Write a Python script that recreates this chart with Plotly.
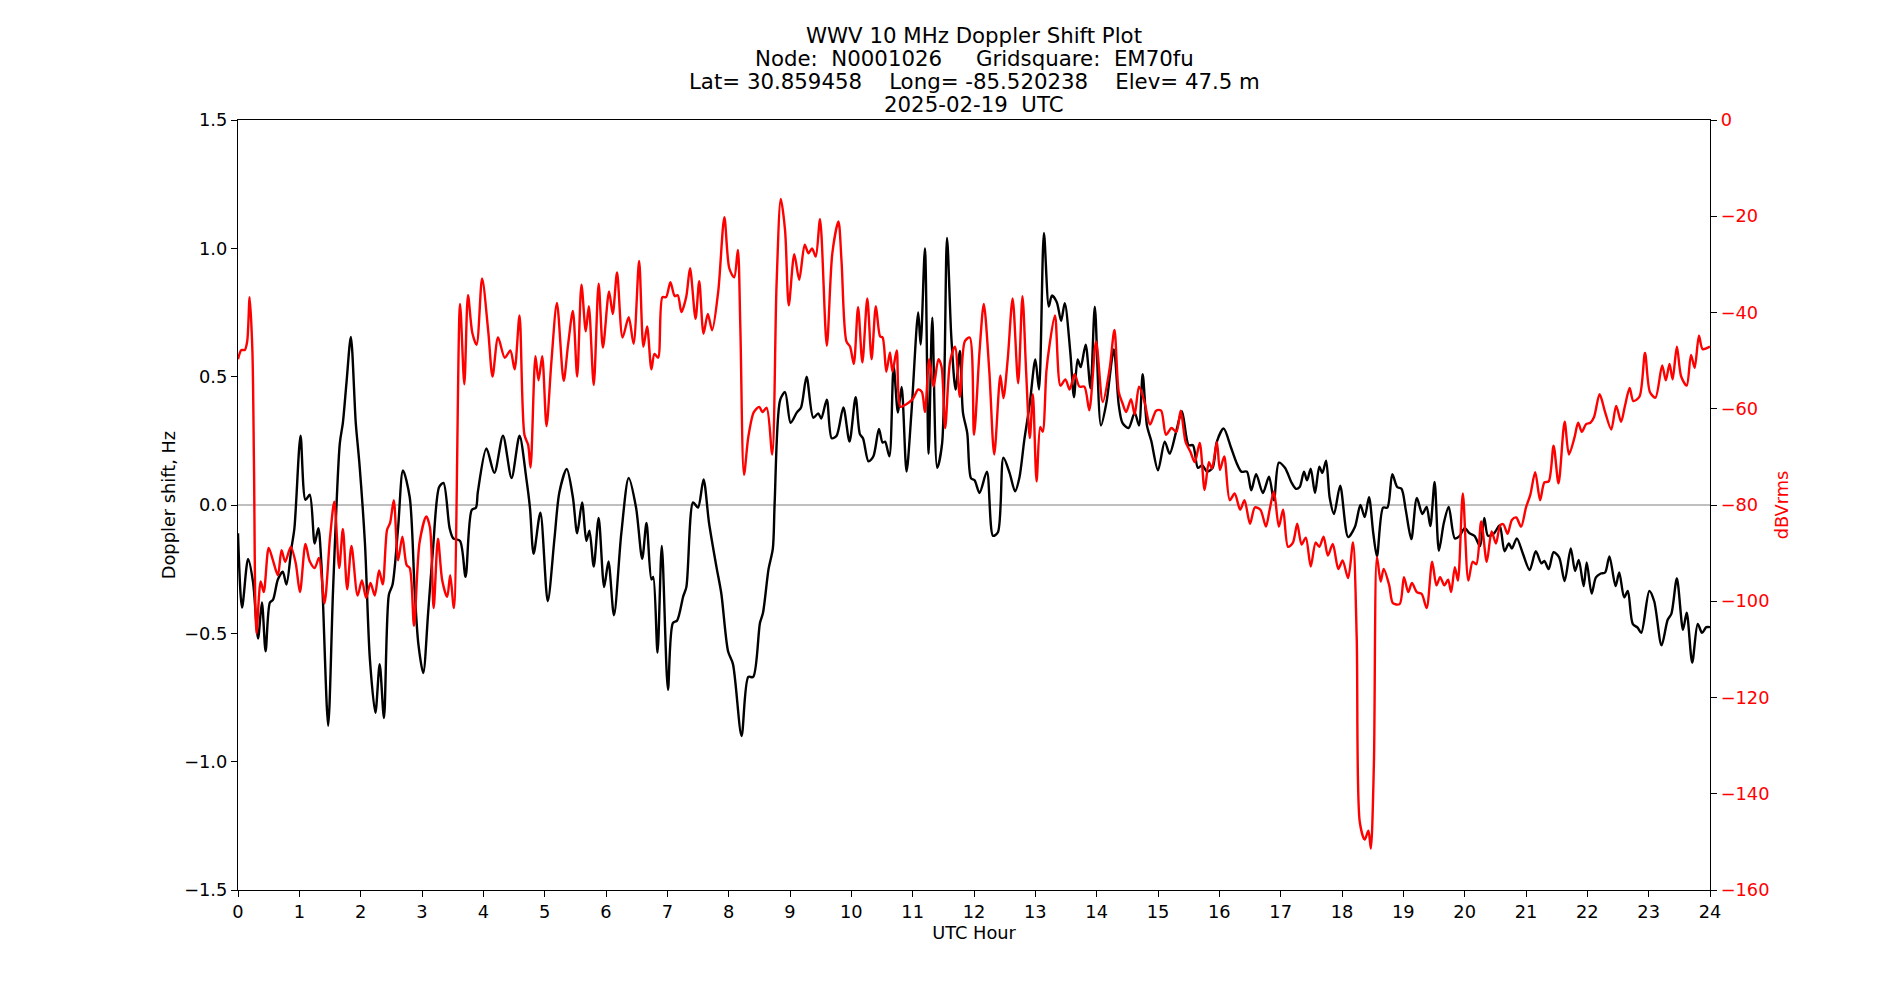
import plotly.graph_objects as go

# ---------------- data ----------------
doppler_hours = [
    0.0, 0.066, 0.164, 0.245, 0.327, 0.39, 0.45, 0.52, 0.57, 0.65,
    0.73, 0.79, 0.87, 0.92, 1.02, 1.10, 1.17, 1.25, 1.31, 1.36,
    1.47, 1.55, 1.66, 1.71, 1.77, 1.84, 1.92, 1.98, 2.07, 2.15,
    2.24, 2.31, 2.38, 2.46, 2.52, 2.61, 2.69, 2.80, 2.88, 2.94,
    3.02, 3.10, 3.18, 3.28, 3.35, 3.45, 3.51, 3.62, 3.71, 3.81,
    3.88, 3.91,
    4.05, 4.18, 4.32, 4.46, 4.59, 4.70, 4.76, 4.82, 4.93, 5.05,
    5.16, 5.24, 5.36, 5.46, 5.53, 5.61, 5.68, 5.73, 5.80, 5.88,
    5.97, 6.04, 6.13, 6.25, 6.37, 6.49, 6.59, 6.66, 6.74, 6.77,
    6.84, 6.91, 7.01, 7.09, 7.16, 7.26, 7.31, 7.42, 7.50, 7.59,
    7.68, 7.80, 7.88, 7.99,
    8.07, 8.21, 8.32, 8.40, 8.51, 8.56, 8.65, 8.72, 8.75, 8.84,
    8.92, 9.01, 9.11, 9.18, 9.27, 9.38, 9.46, 9.51, 9.60, 9.68,
    9.76, 9.87, 9.97, 10.07, 10.14, 10.19, 10.28, 10.36, 10.45, 10.51,
    10.55, 10.62, 10.69, 10.76, 10.82, 10.90, 10.98, 11.09, 11.13, 11.20,
    11.26, 11.32, 11.40, 11.48, 11.56, 11.63, 11.70, 11.77, 11.82, 11.89,
    11.95, 12.01,
    12.09, 12.21, 12.31, 12.39, 12.48, 12.58, 12.67, 12.74, 12.82, 12.91,
    13.00, 13.06, 13.14, 13.22, 13.27, 13.35, 13.42, 13.48, 13.57, 13.63,
    13.69, 13.74, 13.82, 13.90, 13.97, 14.07, 14.16, 14.28, 14.36, 14.42,
    14.52, 14.62, 14.69, 14.75, 14.82, 14.89, 15.00, 15.11, 15.19, 15.30,
    15.39, 15.50, 15.57, 15.65, 15.72, 15.80, 15.89, 15.96, 16.07, 16.19,
    16.28, 16.36, 16.45, 16.52, 16.60, 16.71, 16.81, 16.89, 16.97, 17.07,
    17.18, 17.25, 17.31, 17.38, 17.43, 17.49, 17.56, 17.63, 17.68, 17.74,
    17.80, 17.87, 17.97, 18.10, 18.21, 18.30, 18.37, 18.44, 18.51, 18.57,
    18.67, 18.74, 18.82, 18.90, 18.97, 19.04, 19.13, 19.22, 19.31, 19.38,
    19.44, 19.51, 19.58, 19.66, 19.74, 19.84, 19.92, 20.00, 20.08, 20.16,
    20.25,
    20.32, 20.38, 20.48, 20.57, 20.65, 20.72, 20.77, 20.85, 20.95, 21.06,
    21.16, 21.25, 21.30, 21.37, 21.45, 21.54, 21.63, 21.73, 21.80, 21.86,
    21.94, 21.99, 22.07, 22.14, 22.22, 22.29, 22.36, 22.46, 22.52, 22.60,
    22.66, 22.74, 22.82, 22.88, 23.01, 23.09, 23.21, 23.31, 23.37, 23.46,
    23.56, 23.62, 23.71, 23.80, 23.87, 23.94, 24.0,
]
doppler_hz = [
    -0.11, -0.40, -0.21, -0.30, -0.52, -0.38, -0.57, -0.38, -0.37, -0.29,
    -0.26, -0.31, -0.17, -0.09, 0.27, 0.02, 0.04, -0.15, -0.09, -0.23,
    -0.86, -0.33, 0.24, 0.32, 0.48, 0.655, 0.32, 0.16, -0.15, -0.60,
    -0.81, -0.62, -0.83, -0.35, -0.31, -0.09, 0.135, 0.03, -0.33, -0.54,
    -0.655, -0.42, -0.17, 0.07, 0.086, -0.09, -0.13, -0.14, -0.28, -0.02,
    -0.01, 0.05,
    0.22, 0.125, 0.27, 0.105, 0.27, 0.105, -0.01, -0.19, -0.03, -0.375,
    -0.13, 0.05, 0.14, 0.03, -0.11, 0.01, -0.14, -0.10, -0.24, -0.05,
    -0.32, -0.22, -0.43, -0.11, 0.105, -0.01, -0.21, -0.07, -0.29, -0.28,
    -0.575, -0.16, -0.72, -0.46, -0.45, -0.355, -0.32, 0.01, -0.01, 0.10,
    -0.07, -0.24, -0.345, -0.57,
    -0.62, -0.90, -0.67, -0.67, -0.46, -0.42, -0.25, -0.17, 0.01, 0.41,
    0.44, 0.32, 0.36, 0.38, 0.50, 0.34, 0.357, 0.337, 0.41, 0.26,
    0.27, 0.38, 0.247, 0.42, 0.276, 0.26, 0.17, 0.19, 0.296, 0.243,
    0.247, 0.19, 0.54, 0.36, 0.46, 0.13, 0.36, 0.75, 0.625, 1.00,
    0.20, 0.73, 0.145, 0.24, 1.04, 0.655, 0.45, 0.60, 0.36, 0.28,
    0.105, 0.096,
    0.047, 0.13, -0.12, -0.106, 0.184, 0.125, 0.053, 0.106, 0.253, 0.396,
    0.567, 0.45, 1.06, 0.773, 0.816, 0.79, 0.718, 0.786, 0.596, 0.42,
    0.567, 0.537, 0.625, 0.455, 0.773, 0.31, 0.40, 0.606, 0.39, 0.32,
    0.30, 0.36, 0.31, 0.51, 0.31, 0.25, 0.135, 0.247, 0.20, 0.29,
    0.365, 0.233, 0.233, 0.145, 0.155, 0.13, 0.145, 0.247, 0.298, 0.224,
    0.165, 0.13, 0.13, 0.057, 0.12, 0.047, 0.11, 0.018, 0.165, 0.145,
    0.086, 0.063, 0.07, 0.13, 0.096, 0.141, 0.047, 0.149, 0.125, 0.173,
    0.027, -0.035, 0.075, -0.125, -0.086, 0.0, -0.047, 0.03, -0.11, -0.2,
    -0.01, -0.01, 0.12, 0.07, 0.063, -0.02, -0.133, 0.027, -0.035, -0.008,
    -0.082, 0.09, -0.178, -0.07, -0.008, -0.13, -0.12, -0.09, -0.11, -0.12,
    -0.16,
    -0.05, -0.12, -0.11, -0.08, -0.18, -0.15, -0.17, -0.13, -0.19, -0.253,
    -0.18, -0.227, -0.218, -0.25, -0.184, -0.204, -0.296, -0.169, -0.257, -0.214,
    -0.316, -0.224, -0.345, -0.282, -0.267, -0.263, -0.2, -0.316, -0.263, -0.36,
    -0.335, -0.463, -0.478, -0.498, -0.335, -0.375, -0.547, -0.447, -0.424, -0.286,
    -0.486, -0.42, -0.614, -0.463, -0.498, -0.476, -0.476,
]

power_hours = [
    0.0, 0.055, 0.11, 0.15, 0.19, 0.235, 0.26, 0.30, 0.37, 0.42,
    0.50, 0.57, 0.65, 0.71, 0.77, 0.86, 0.94, 1.01, 1.10, 1.17,
    1.25, 1.32, 1.41, 1.50, 1.57, 1.65, 1.71, 1.78, 1.85, 1.95,
    2.02, 2.09, 2.16, 2.23, 2.30, 2.36, 2.43, 2.48, 2.54, 2.61,
    2.68, 2.75, 2.80, 2.87, 2.96, 3.07, 3.13, 3.19, 3.26, 3.33,
    3.41, 3.46, 3.52, 3.62, 3.69, 3.75, 3.82, 3.89,
    3.98, 4.08, 4.15, 4.24, 4.35, 4.44, 4.51, 4.59, 4.67, 4.73,
    4.77, 4.85, 4.90, 4.96, 5.03, 5.11, 5.20, 5.31, 5.38, 5.46,
    5.53, 5.60, 5.67, 5.72, 5.80, 5.88, 5.95, 6.05, 6.11, 6.18,
    6.27, 6.37, 6.45, 6.54, 6.61, 6.67, 6.74, 6.79, 6.85, 6.92,
    6.98, 7.05, 7.12, 7.17, 7.23, 7.31, 7.37, 7.46, 7.52, 7.59,
    7.66, 7.73, 7.83, 7.93, 8.01, 8.09,
    8.15, 8.19, 8.25, 8.32, 8.41, 8.50, 8.55, 8.62, 8.71, 8.78,
    8.85, 8.92, 8.98, 9.07, 9.15, 9.24, 9.30, 9.36, 9.42, 9.49,
    9.60, 9.69, 9.79, 9.84, 9.92, 9.98, 10.04, 10.11, 10.18, 10.26,
    10.33, 10.40, 10.47, 10.51, 10.57, 10.63, 10.67, 10.74, 10.80, 10.89,
    11.00, 11.09, 11.15, 11.20, 11.27, 11.34, 11.42, 11.47, 11.53, 11.61,
    11.69, 11.77, 11.85, 11.93, 12.00, 12.09,
    12.16, 12.25, 12.33, 12.43, 12.48, 12.55, 12.63, 12.72, 12.79, 12.85,
    12.91, 12.96, 13.02, 13.08, 13.12, 13.18, 13.23, 13.32, 13.41, 13.49,
    13.56, 13.64, 13.72, 13.80, 13.88, 13.99, 14.10, 14.21, 14.29, 14.36,
    14.42, 14.48, 14.56, 14.62, 14.69, 14.78, 14.87, 14.97, 15.05, 15.13,
    15.22, 15.30, 15.37, 15.45, 15.53, 15.60, 15.68, 15.76, 15.83, 15.88,
    15.96, 16.01, 16.08, 16.17, 16.25,
    16.34, 16.41, 16.50, 16.58, 16.67, 16.76, 16.82, 16.89, 16.97, 17.04,
    17.12, 17.20, 17.27, 17.34, 17.41, 17.49, 17.57, 17.63, 17.70, 17.77,
    17.85, 17.94, 18.01, 18.10, 18.18, 18.24, 18.29, 18.37, 18.43, 18.47,
    18.52, 18.57, 18.63, 18.68, 18.77, 18.83, 18.94, 19.01, 19.08, 19.14,
    19.22, 19.30, 19.38, 19.47, 19.54, 19.60, 19.67, 19.73, 19.78, 19.84,
    19.89, 19.97, 20.06, 20.13, 20.19, 20.27,
    20.36, 20.44, 20.51, 20.58, 20.63, 20.70, 20.77, 20.84, 20.92, 21.00,
    21.07, 21.15, 21.23, 21.30, 21.37, 21.45, 21.53, 21.63, 21.70, 21.79,
    21.85, 21.91, 21.98, 22.05, 22.11, 22.20, 22.29, 22.39, 22.47, 22.55,
    22.61, 22.69, 22.75, 22.85, 22.94, 23.02, 23.11, 23.22, 23.28, 23.34,
    23.39, 23.46, 23.53, 23.62, 23.69, 23.75, 23.82, 23.88, 24.0,
]
power_dbv = [
    -49.7, -47.8, -47.8, -46.0, -36.8, -48.1, -71.1, -106.7, -95.9, -98.1,
    -88.9, -91.5, -94.6, -89.4, -91.8, -88.7, -92.0, -98.1, -88.1, -91.7,
    -93.1, -91.0, -100.4, -86.8, -79.3, -93.1, -85.0, -97.5, -88.5, -98.8,
    -95.7, -99.3, -96.2, -98.8, -93.6, -96.5, -85.2, -83.7, -79.0, -91.5,
    -86.6, -92.5, -93.1, -105.1, -87.8, -82.4, -84.7, -101.4, -87.0, -95.7,
    -99.1, -94.6, -101.4, -38.2, -54.9, -36.4, -44.2, -46.7,
    -32.9, -43.9, -53.3, -45.2, -49.4, -47.9, -51.8, -40.6, -65.4, -67.5,
    -72.2, -49.1, -54.1, -49.1, -63.6, -50.2, -38.0, -54.2, -46.9, -39.7,
    -53.3, -34.2, -43.9, -38.7, -55.1, -34.0, -47.3, -35.6, -40.3, -31.7,
    -45.2, -41.0, -46.5, -29.3, -47.1, -42.9, -51.8, -48.6, -49.4, -36.8,
    -36.8, -33.7, -36.6, -36.4, -39.9, -36.6, -30.8, -41.3, -33.5, -44.4,
    -40.3, -43.7, -35.6, -20.2, -30.8, -32.7,
    -27.0, -42.9, -73.7, -65.9, -60.7, -59.6, -60.7, -59.8, -69.5, -34.5,
    -16.4, -23.0, -38.5, -27.9, -33.2, -25.9, -27.7, -26.7, -28.4, -20.6,
    -46.9, -27.7, -21.1, -29.3, -46.0, -47.1, -50.7, -38.9, -50.4, -37.1,
    -49.7, -38.7, -45.0, -45.2, -52.3, -48.3, -52.3, -47.9, -59.6, -59.1,
    -58.0, -56.0, -56.5, -60.7, -49.7, -55.4, -49.7, -51.2, -64.0, -50.2,
    -47.1, -57.5, -46.0, -45.2, -65.4, -48.1,
    -38.2, -52.3, -69.5, -53.1, -57.8, -49.7, -37.1, -54.7, -36.6, -52.3,
    -66.1, -57.0, -75.1, -63.8, -64.8, -52.3, -46.9, -40.6, -55.2, -53.9,
    -56.0, -52.8, -55.4, -55.4, -60.3, -46.0, -58.6, -51.8, -43.6, -56.5,
    -58.8, -60.7, -58.0, -61.2, -55.4, -58.6, -63.3, -60.4, -60.4, -65.4,
    -64.0, -64.8, -60.4, -66.9, -69.0, -71.1, -67.1, -76.9, -71.1, -72.4,
    -66.9, -72.7, -69.9, -79.0, -77.6,
    -81.0, -79.0, -83.9, -80.5, -81.0, -84.5, -81.0, -77.2, -84.5, -81.0,
    -88.7, -87.8, -83.9, -88.2, -86.8, -92.8, -87.8, -88.7, -86.6, -90.5,
    -88.1, -93.3, -91.5, -95.2, -87.8, -107.7, -145.9, -149.5, -147.7, -151.4,
    -133.9, -90.8, -95.9, -93.3, -96.7, -100.4, -100.6, -95.0, -98.1, -96.2,
    -98.1, -98.5, -101.4, -91.8, -96.7, -95.0, -96.7, -95.5, -98.1, -92.9,
    -95.7, -77.6, -95.7, -91.8, -92.3, -83.4,
    -91.8, -85.5, -88.0, -84.2, -84.0, -86.0, -83.1, -82.6, -84.5, -80.5,
    -77.9, -73.2, -79.0, -75.3, -75.1, -67.7, -75.5, -62.7, -69.5, -66.0,
    -62.9, -64.8, -63.2, -62.9, -61.7, -57.0, -60.7, -64.3, -59.4, -62.7,
    -59.6, -55.7, -58.4, -57.5, -48.4, -56.5, -57.7, -51.0, -54.1, -50.7,
    -53.9, -47.1, -53.3, -55.2, -48.8, -51.5, -44.8, -47.6, -47.1,
]

title_lines = [
    "WWV 10 MHz Doppler Shift Plot",
    "Node:  N0001026     Gridsquare:  EM70fu",
    "Lat= 30.859458    Long= -85.520238    Elev= 47.5 m",
    "2025-02-19  UTC",
]
x_ticks = list(range(0, 25))
y1_ticks = [-1.5, -1.0, -0.5, 0.0, 0.5, 1.0, 1.5]
y2_ticks = [0, -20, -40, -60, -80, -100, -120, -140, -160]

assert len(doppler_hours) == len(doppler_hz)
assert len(power_hours) == len(power_dbv)

FONT = "DejaVu Sans"
TICK_SIZE = 17.8
LABEL_SIZE = 17.8
TITLE_SIZE = 21.3

fig = go.Figure()
fig.add_trace(go.Scatter(
    x=doppler_hours, y=doppler_hz, mode="lines",
    line=dict(color="black", width=2.4, shape="spline", smoothing=0.8),
    yaxis="y", hoverinfo="skip", showlegend=False,
))
fig.add_trace(go.Scatter(
    x=power_hours, y=power_dbv, mode="lines",
    line=dict(color="red", width=2.4, shape="spline", smoothing=0.8),
    yaxis="y2", hoverinfo="skip", showlegend=False,
))

# zero line of the Doppler axis
fig.add_shape(type="line", xref="paper", x0=0, x1=1, yref="y", y0=0, y1=0,
              line=dict(color="#808080", width=1.2), layer="below")

title_y = [1.1097, 1.0799, 1.0500, 1.0201]
for txt, yy in zip(title_lines, title_y):
    fig.add_annotation(text=txt, x=0.5, xref="paper", y=yy, yref="paper",
                       xanchor="center", yanchor="middle", showarrow=False,
                       font=dict(family=FONT, size=TITLE_SIZE, color="black"))

axis_common = dict(
    showline=True, linecolor="black", linewidth=1.2,
    ticks="outside", ticklen=6, tickwidth=1.2, tickcolor="black",
    showgrid=False, zeroline=False,
)

fig.update_layout(
    width=1900, height=1000,
    margin=dict(l=238, r=190, t=120, b=110),
    plot_bgcolor="white", paper_bgcolor="white",
    font=dict(family=FONT, size=TICK_SIZE, color="black"),
    showlegend=False,
    xaxis=dict(
        range=[0, 24], tickvals=x_ticks, ticktext=[str(v) for v in x_ticks],
        title=dict(text="UTC Hour", font=dict(size=LABEL_SIZE), standoff=3),
        mirror=True, **axis_common,
    ),
    yaxis=dict(
        range=[-1.5, 1.5], tickvals=y1_ticks, tickformat=".1f",
        title=dict(text="Doppler shift, Hz", font=dict(size=LABEL_SIZE), standoff=3),
        **axis_common,
    ),
    yaxis2=dict(
        range=[-160, 0], tickvals=y2_ticks, overlaying="y", side="right",
        tickfont=dict(color="red"),
        title=dict(text="dBVrms", font=dict(size=LABEL_SIZE, color="red"), standoff=7),
        **axis_common,
    ),
)

fig.write_html("out.html")
